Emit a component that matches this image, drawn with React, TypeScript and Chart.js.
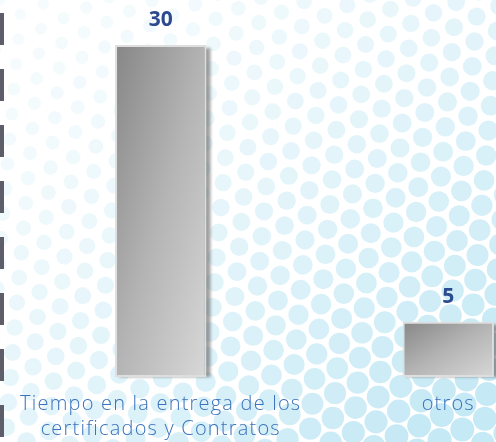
import React, { useEffect, useRef } from "react";
import { Chart, registerables } from "chart.js";

Chart.register(...registerables);

const categories: (string | string[])[] = [
  ["Tiempo en la entrega de los", "certificados y Contratos"],
  "otros",
];
const values: number[] = [30, 5];
const yMin = 0;
const yMax = 30;

const LABEL_FONT = "'Open Sans', 'DejaVu Sans', sans-serif";

const dotsPlugin = {
  id: "dotsBg",
  beforeDraw(chart: any) {
    const ctx = chart.ctx as CanvasRenderingContext2D;
    const W = 496;
    const H = 442;
    ctx.save();
    ctx.fillStyle = "#ffffff";
    ctx.fillRect(0, 0, chart.width, chart.height);
    const d = 25;
    const a = (-25 * Math.PI) / 180;
    const ca = Math.cos(a);
    const sa = Math.sin(a);
    for (let j = -40; j < 60; j++) {
      for (let i = -40; i < 60; i++) {
        const px = i * d + j * d * 0.5;
        const py = j * d * 0.866;
        const x = px * ca - py * sa;
        const y = px * sa + py * ca;
        if (x < -20 || x > chart.width + 20 || y < -20 || y > H + 20) continue;
        const t = Math.max(0, Math.min(1, (x / W) * 0.55 + (y / H) * 0.55));
        const r = 5.5 + 6.5 * t;
        const alpha = 0.14 + 0.78 * Math.pow(t, 1.6);
        ctx.fillStyle = `rgba(192,231,244,${alpha})`;
        ctx.beginPath();
        ctx.arc(x, y, r, 0, Math.PI * 2);
        ctx.fill();
      }
    }
    ctx.restore();
    (ctx as any).letterSpacing = "1.2px";
  },
  beforeDatasetsDraw(chart: any) {
    (chart.ctx as any).letterSpacing = "0px";
  },
};

const shadowPlugin = {
  id: "barShadow",
  beforeDatasetsDraw(chart: any) {
    const ctx = chart.ctx as CanvasRenderingContext2D;
    const meta = chart.getDatasetMeta(0);
    ctx.save();
    ctx.filter = "blur(1.5px)";
    ctx.fillStyle = "rgba(80,80,80,0.55)";
    meta.data.forEach((el: any) => {
      const { x, y, base, width } = el.getProps(["x", "y", "base", "width"], true);
      ctx.fillRect(x - width / 2 + 4, y + 3, width, base - y - 3);
    });
    ctx.restore();
  },
};

const valueLabelPlugin = {
  id: "valueLabels",
  afterDatasetsDraw(chart: any) {
    const ctx = chart.ctx as CanvasRenderingContext2D;
    const meta = chart.getDatasetMeta(0);
    ctx.save();
    ctx.font = `bold 21px ${LABEL_FONT}`;
    ctx.fillStyle = "#2c4b8e";
    ctx.textAlign = "center";
    ctx.textBaseline = "middle";
    meta.data.forEach((el: any, i: number) => {
      const { x, y } = el.getProps(["x", "y"], true);
      ctx.fillText(String(values[i]), x, y - 25);
    });
    ctx.restore();
  },
};

function barGradient(context: any) {
  const chart = context.chart;
  const xs = chart.scales?.x;
  const ys = chart.scales?.y;
  if (!chart.chartArea || !xs || !ys) return "#b0b0b0";
  const i = context.dataIndex;
  const v = values[i];
  const cx = xs.getPixelForValue(i);
  const w = 92;
  const left = cx - w / 2;
  const top = ys.getPixelForValue(v);
  const bottom = ys.getPixelForValue(0);
  const h = Math.max(1, bottom - top);
  const k = (2 * w * h) / (h * h + w * w);
  const g = chart.ctx.createLinearGradient(left, top, left + h * k, top + w * k);
  g.addColorStop(0, "#868686");
  g.addColorStop(0.5, "#b4b4b4");
  g.addColorStop(1, "#d8d8d8");
  return g;
}

export default function App() {
  const ref = useRef<HTMLCanvasElement | null>(null);

  useEffect(() => {
    if (!ref.current) return;
    const chart = new Chart(ref.current, {
      type: "bar",
      data: {
        labels: categories,
        datasets: [
          {
            data: values,
            backgroundColor: barGradient,
            borderColor: "#dedede",
            borderWidth: 2,
            borderSkipped: false,
            categoryPercentage: 1,
            barPercentage: 0.318,
          },
        ],
      },
      options: {
        animation: false,
        responsive: false,
        layout: { padding: { left: 17, right: 8, top: 45, bottom: 0 } },
        plugins: {
          legend: { display: false },
          tooltip: { enabled: false },
        },
        scales: {
          x: {
            offset: true,
            grid: { display: false, drawTicks: false },
            border: { display: false },
            ticks: {
              color: "#3b72bb",
              font: { family: LABEL_FONT, size: 20, weight: "300", lineHeight: 1.25 },
              padding: 15,
              maxRotation: 0,
              autoSkip: false,
            },
            afterFit: (scale: any) => {
              scale.height = 65;
            },
          },
          y: { display: false, min: yMin, max: yMax },
        },
      },
      plugins: [dotsPlugin, shadowPlugin, valueLabelPlugin],
    });
    return () => chart.destroy();
  }, []);

  return (
    <div
      style={{
        position: "fixed",
        left: 0,
        top: 0,
        width: 496,
        height: 442,
        overflow: "hidden",
        background: "#fff",
      }}
    >
      <canvas ref={ref} width={600} height={442} style={{ width: 600, height: 442, display: "block" }} />
      <div
        style={{
          position: "absolute",
          left: 0,
          top: 0,
          width: 4,
          height: 442,
          background:
            "repeating-linear-gradient(to bottom, transparent 0px, transparent 13px, #5e5e6a 13px, #5e5e6a 45px, transparent 45px, transparent 56px)",
        }}
      />
    </div>
  );
}
